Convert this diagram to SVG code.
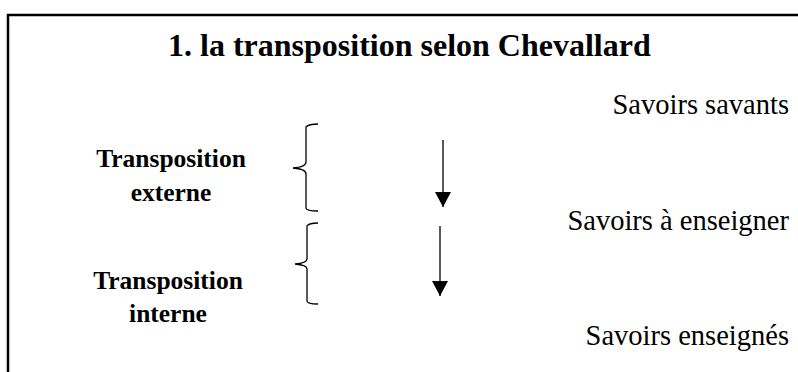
<svg xmlns="http://www.w3.org/2000/svg" width="798" height="372" viewBox="0 0 798 372">
  <style>
    .frame { fill: none; stroke: #000; stroke-width: 2.5; }
    .title { font-family: "Liberation Serif", "Times New Roman", serif; font-weight: bold; font-size: 32px; fill: #000; }
    .label { font-family: "Liberation Serif", "Times New Roman", serif; font-weight: bold; font-size: 25.5px; fill: #000; text-anchor: middle; }
    .level { font-family: "Liberation Serif", "Times New Roman", serif; font-size: 28.5px; fill: #000; text-anchor: end; }
    .brace { fill: none; stroke: #000; stroke-width: 1.3; }
    .arrow { stroke: #000; stroke-width: 1.3; fill: none; }
  </style>
  <defs>
    <marker id="head" markerWidth="16" markerHeight="16" viewBox="0 0 16 16" refX="15" refY="8" orient="auto" markerUnits="userSpaceOnUse">
      <path d="M0,0 L15,8 L0,16 Z" fill="#000"/>
    </marker>
  </defs>
  <rect width="798" height="372" fill="#fff"/>

  <!-- open frame: top and left edges -->
  <path class="frame" d="M8,372 V15 H798"/>

  <text class="title" x="168" y="56">1. la transposition selon Chevallard</text>

  <g id="savoirs-savants">
    <text class="level" x="789" y="114">Savoirs savants</text>
  </g>
  <g id="savoirs-a-enseigner">
    <text class="level" x="789" y="230">Savoirs à enseigner</text>
  </g>
  <g id="savoirs-enseignes">
    <text class="level" x="789" y="345">Savoirs enseignés</text>
  </g>

  <g id="transposition-externe">
    <text class="label" x="171" y="167">Transposition</text>
    <text class="label" x="171" y="201">externe</text>
    <path class="brace" d="M318,124 Q309,124 306,127 V162 Q306,167 293,168 Q306,169 306,174 V208 Q306,211 318,211"/>
  </g>

  <g id="transposition-interne">
    <text class="label" x="168" y="289">Transposition</text>
    <text class="label" x="168" y="322">interne</text>
    <path class="brace" d="M318,223 Q309,223 307,226 V259 Q307,263 295,264 Q307,265 307,269 V301 Q307,304 318,304"/>
  </g>

  <g id="connectors">
    <line class="arrow" x1="443" y1="140" x2="443" y2="207" marker-end="url(#head)"/>
    <line class="arrow" x1="440" y1="226" x2="440" y2="296" marker-end="url(#head)"/>
  </g>
</svg>
